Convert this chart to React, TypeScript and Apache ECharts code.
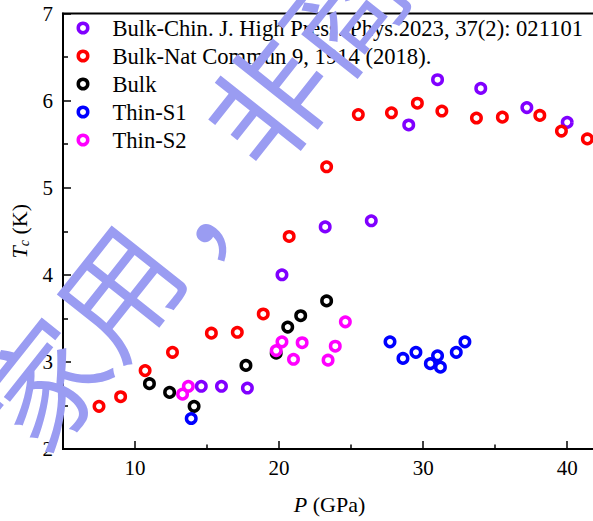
import React, { useEffect, useRef } from "react";
import * as echarts from "echarts";

// ---- data (P in GPa, Tc in K) ----
const seriesNames = [
  "Bulk-Chin. J. High Press. Phys.2023, 37(2): 021101",
  "Bulk-Nat Commun 9, 1914 (2018).",
  "Bulk",
  "Thin-S1",
  "Thin-S2",
];

const bulkChin: number[][] = [
  [14.6, 2.72], [16.0, 2.72], [17.8, 2.7], [20.2, 4.0], [23.2, 4.55], [26.4, 4.62],
  [29.0, 5.72], [31.0, 6.24], [34.0, 6.14], [37.2, 5.92], [40.0, 5.75],
];

const bulkNat: number[][] = [
  [7.5, 2.49], [9.0, 2.6], [10.7, 2.9], [12.6, 3.11], [15.3, 3.33], [17.1, 3.34],
  [18.9, 3.55], [20.7, 4.44], [23.3, 5.24], [25.5, 5.84], [27.8, 5.86], [29.6, 5.97],
  [31.3, 5.88], [33.7, 5.8], [35.5, 5.81], [38.1, 5.83], [39.6, 5.65], [41.4, 5.56],
];

const bulk: number[][] = [
  [11.0, 2.75], [12.4, 2.65], [14.1, 2.49], [17.7, 2.96], [19.8, 3.1], [20.6, 3.4],
  [21.5, 3.53], [23.3, 3.7],
];

const thinS1: number[][] = [
  [13.9, 2.35], [27.7, 3.23], [28.6, 3.04], [29.5, 3.11], [30.5, 2.98], [31.0, 3.07],
  [31.2, 2.94], [32.3, 3.11], [32.9, 3.23],
];

const thinS2: number[][] = [
  [13.3, 2.63], [13.7, 2.72], [19.8, 3.13], [20.2, 3.23], [21.0, 3.03], [21.6, 3.22],
  [23.4, 3.02], [23.9, 3.18], [24.6, 3.46],
];

const seriesColors = ["#8000ff", "#ff0000", "#000000", "#0000ff", "#ff00ff"];
const seriesData = [bulkChin, bulkNat, bulk, thinS1, thinS2];

const xMajorTicks = [10, 20, 30, 40];
const xMinorTicks = [15, 25, 35];

const watermarkChars = ["家", "用", "，", "非", "商"];

const FONT = "'Liberation Serif', 'Times New Roman', serif";

function buildWatermark() {
  const cx = 189;
  const cy = 193;
  const angle = 0.9;
  const step = 120;
  const dx = Math.cos(angle);
  const dy = -Math.sin(angle);
  return watermarkChars.map((ch, i) => {
    const k = i - 2;
    let x = cx + k * step * dx;
    let y = cy + k * step * dy;
    if (ch === "，") {
      x += 10;
      y -= 4;
    }
    return {
      type: "text",
      x,
      y,
      rotation: angle,
      z: 100,
      silent: true,
      style: {
        text: ch,
        fontSize: 120,
        fontFamily: "'Noto Sans CJK SC', sans-serif",
        fill: "#9a9cf2",
        align: "center",
        verticalAlign: "middle",
      },
    };
  });
}

export default function App() {
  const ref = useRef<HTMLDivElement>(null);

  useEffect(() => {
    if (!ref.current) return;
    const chart = echarts.init(ref.current, undefined, { renderer: "svg" });

    const series = seriesData.map((d, i) => ({
      name: seriesNames[i],
      type: "scatter",
      data: d,
      symbol: "circle",
      symbolSize: 9.5,
      itemStyle: {
        color: "#ffffff",
        borderColor: seriesColors[i],
        borderWidth: 3.5,
        opacity: 1,
      },
      emphasis: { disabled: true },
      z: 3 + i,
    }));

    chart.setOption({
      animation: false,
      backgroundColor: "#ffffff",
      grid: {
        left: 63,
        top: 13.5,
        width: 533,
        height: 435.5,
        show: true,
        borderColor: "#000",
        borderWidth: 2,
        backgroundColor: "transparent",
        containLabel: false,
        outerBoundsMode: "none",
      },
      legend: {
        orient: "vertical",
        left: 76.5,
        top: 14,
        padding: 0,
        itemGap: 0,
        itemWidth: 49,
        itemHeight: 9.5,
        selectedMode: false,
        data: seriesNames,
        itemStyle: { borderWidth: 3.5 },
        textStyle: {
          fontFamily: FONT,
          fontSize: 22.6,
          color: "#000",
          lineHeight: 28,
        },
      },
      xAxis: [
        {
          type: "value",
          min: 5,
          max: 42,
          position: "bottom",
          name: "{i|P} (GPa)",
          nameLocation: "middle",
          nameGap: 44,
          nameTextStyle: {
            fontFamily: FONT,
            fontSize: 22,
            color: "#000",
            rich: {
              i: { fontFamily: FONT, fontSize: 22, fontStyle: "italic", color: "#000" },
            },
          },
          axisLine: { show: true, lineStyle: { color: "#000", width: 2 } },
          axisTick: {
            show: true,
            inside: true,
            length: 8,
            customValues: xMajorTicks,
            lineStyle: { color: "#000", width: 1.5 },
          },
          axisLabel: {
            customValues: xMajorTicks,
            margin: 8,
            fontFamily: FONT,
            fontSize: 21,
            color: "#000",
          },
          splitLine: { show: false },
        },
        {
          type: "value",
          min: 5,
          max: 42,
          position: "bottom",
          axisLine: { show: false },
          axisTick: {
            show: true,
            inside: true,
            length: 4.5,
            customValues: xMinorTicks,
            lineStyle: { color: "#000", width: 1.5 },
          },
          axisLabel: { show: false },
          splitLine: { show: false },
        },
      ],
      yAxis: {
        type: "value",
        min: 2,
        max: 7,
        interval: 1,
        name: "{i|T}{s|c} (K)",
        nameLocation: "middle",
        nameGap: 23,
        nameTextStyle: {
          fontFamily: FONT,
          fontSize: 22,
          color: "#000",
          lineHeight: 24,
          rich: {
            i: { fontFamily: FONT, fontSize: 22, fontStyle: "italic", color: "#000", lineHeight: 24 },
            s: {
              fontFamily: FONT,
              fontSize: 14,
              fontStyle: "italic",
              color: "#000",
              lineHeight: 14,
              verticalAlign: "bottom",
            },
          },
        },
        axisLine: { show: true, lineStyle: { color: "#000", width: 2 } },
        axisTick: { show: true, inside: true, length: 8, lineStyle: { color: "#000", width: 1.5 } },
        minorTick: { show: true, splitNumber: 2, length: 5, lineStyle: { color: "#000", width: 1.5 } },
        axisLabel: { margin: 10, fontFamily: FONT, fontSize: 21, color: "#000" },
        splitLine: { show: false },
      },
      graphic: buildWatermark(),
      series,
    });

    return () => {
      chart.dispose();
    };
  }, []);

  return (
    <div
      ref={ref}
      style={{ position: "fixed", left: 0, top: 0, width: 593, height: 521, background: "#fff" }}
    />
  );
}
